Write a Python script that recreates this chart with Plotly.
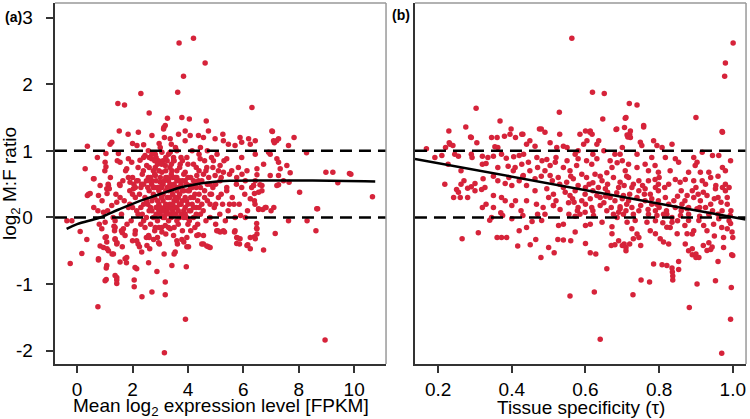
import plotly.graph_objects as go

# ---------------- Panel (a): mean log2 expression vs log2 M:F ----------------
panel_a_sparse = [
    (3.68,2.62),(4.20,2.69),(4.62,2.32),(3.84,2.12),(3.63,1.88),(2.30,1.86),(1.47,1.71),(1.71,1.69),
    (2.60,1.57),(6.31,1.65),(3.26,1.49),(3.78,1.50),(4.05,1.48),(4.66,1.45),(3.13,1.35),(1.52,1.30),
    (2.21,1.28),(1.84,1.25),(0.37,1.07),(0.29,0.73),(7.05,1.29),(7.83,1.20),(8.28,0.97),(8.98,0.68),
    (9.23,0.68),(9.41,0.52),(9.83,0.66),(9.88,0.65),(10.66,0.31),(8.03,0.38),(7.65,0.53),(7.27,0.49),
    (7.69,0.67),(6.91,0.98),(7.12,1.12),(7.20,1.15),(6.49,0.64),(6.60,0.49),(6.40,0.36),(6.42,0.20),
    (6.70,0.12),(7.00,0.10),(8.65,0.13),(1.04,0.96),(1.19,1.10),(1.25,1.13),(0.73,0.90),(1.04,0.76),
    (0.61,0.58),(0.83,0.48),(0.41,0.35),(0.37,0.33),(1.08,0.36),(1.12,0.50),(1.53,0.50),
]
panel_a_low = [
    (-0.37,-0.05),(-0.19,-0.05),(-0.25,-0.69),(0.11,-0.21),(0.17,-0.54),(0.35,-0.33),(0.75,-1.34),
    (0.77,-0.64),(0.83,-0.43),(1.05,-0.76),(1.05,-0.93),(1.05,-0.29),(1.08,-0.47),(1.26,-0.55),
    (1.37,-0.87),(1.43,-0.94),(1.43,-0.99),(1.55,-0.67),(1.73,-0.62),(1.79,-0.60),(1.37,-0.33),
    (1.44,-0.38),(1.63,-0.23),(1.63,-0.44),(1.33,-0.13),(2.06,-0.94),(2.06,-1.04),(2.15,-0.77),
    (2.34,-1.19),(2.58,-0.68),(2.70,-1.12),(2.88,-0.81),(2.97,-0.40),(3.14,-0.55),(3.18,-0.97),
    (3.18,-1.16),(3.15,-2.03),(3.42,-0.72),(3.50,-0.55),(3.62,-0.40),(3.94,-0.74),(3.91,-1.53),
    (4.02,-0.44),(3.85,-0.37),(4.50,-0.40),(4.74,-0.44),(4.38,-0.26),(4.10,-0.20),(5.08,-0.20),
    (5.32,-0.22),(5.68,-0.22),(5.80,-0.31),(5.86,-0.40),(6.16,-0.41),(6.25,-0.47),(6.40,-0.29),
    (6.48,-0.16),(6.48,-0.09),(6.73,-0.49),(6.55,0.12),(6.82,0.15),(7.10,0.15),(7.15,-0.24),
    (7.63,-0.05),(8.30,-0.05),(8.62,-0.20),(8.68,0.13),(8.95,-1.84),(5.90,0.03),(6.07,0.00),
    (5.50,0.20),(5.66,0.20),
]
panel_a_upper = [
    (3.66,1.25),(3.90,1.30),(4.08,1.23),(4.38,1.23),(4.56,1.20),(4.74,1.30),(4.98,1.18),(5.26,1.25),
    (5.28,1.15),(5.46,1.10),(5.70,1.08),(5.88,1.20),(5.94,1.13),(6.19,1.18),(6.25,1.10),(6.43,1.15),
    (7.03,1.30),(7.09,1.15),(7.27,1.18),(7.63,1.08),(3.48,0.90),(3.72,0.80),(3.96,0.90),(4.20,0.80),
    (4.44,0.88),(4.68,0.75),(4.92,0.85),(5.16,0.78),(5.40,0.88),(5.58,0.70),(5.82,0.75),(5.94,0.90),
    (6.13,0.70),(6.43,0.95),(6.49,0.73),(6.97,0.95),(7.21,0.88),(7.27,0.83),(7.33,0.73),(7.27,0.63),
    (7.45,0.55),(6.97,0.63),(6.43,0.55),(6.07,0.55),(5.94,0.45),(6.37,0.48),(5.16,0.55),(5.40,0.45),
    (4.80,0.50),(4.38,0.55),(4.08,0.48),(3.60,0.55),(3.90,0.68),(4.32,0.63),(4.98,0.63),(4.56,0.65),
    (3.42,0.70),(5.28,0.68),(5.76,0.60),(6.73,0.80),(7.57,0.78),
    (2.70,1.23),(3.18,1.38),(3.12,1.33),(3.36,1.18),(2.00,1.11),(2.16,1.08),(2.40,1.09),(2.96,1.11),
    (1.01,0.83),(0.59,0.58),(1.13,0.48),(1.55,0.83),(1.49,0.96),(1.85,0.88),(1.97,0.83),(2.27,0.86),
    (2.45,0.93),(2.57,1.00),(2.82,0.95),(3.06,0.98),(1.79,0.73),(1.85,0.60),(1.91,0.53),(1.55,0.48),
    (2.15,0.55),(2.39,0.70),(2.51,0.78),(2.69,0.88),(2.94,0.85),(3.18,0.78),(2.82,0.75),(2.57,0.60),
    (2.82,0.63),(3.06,0.68),(3.30,0.58),(2.33,0.50),(2.69,0.50),(3.00,0.53),(3.42,0.45),(3.48,0.85),
    (3.36,0.98),(2.03,0.43),(1.07,0.43),
]
panel_a_mid = [
    (0.47,0.36),(0.77,0.33),(1.16,0.43),(0.75,0.10),(0.95,0.08),(1.25,0.18),(1.43,0.23),(1.01,-0.07),
    (0.89,-0.17),(1.37,-0.05),(1.37,-0.15),(1.67,-0.17),(1.73,-0.27),(1.01,-0.30),(1.07,-0.37),
    (1.37,-0.32),(1.43,-0.40),(0.95,-0.45),(1.13,-0.50),(1.31,-0.55),(0.77,-0.62),(1.07,-0.72),
    (1.43,-0.90),(1.01,-0.95),(1.78,-0.68),(2.09,-0.75),(2.09,-0.25),(2.15,-0.35),(2.33,-0.52),
    (2.25,-0.44),(2.52,-0.42),(2.62,-0.47),(2.58,-0.27),(2.76,-0.33),(2.94,-0.38),(2.82,-0.15),
    (3.06,-0.22),(3.18,-0.12),(3.36,-0.17),(3.48,-0.27),
    (6.25,0.28),(6.55,0.13),(6.79,0.15),(6.55,0.38),(6.67,0.40),(6.37,0.48),(6.67,0.48),(7.21,0.48),
    (6.49,-0.17),(6.49,-0.25),(6.43,-0.32),(6.25,-0.30),(6.13,-0.42),(5.76,-0.39),(5.88,-0.32),
    (5.70,-0.20),(5.76,-0.30),(5.28,-0.20),(5.16,-0.22),(5.04,-0.20),(4.56,-0.40),(4.68,-0.43),
    (4.80,-0.45),(4.32,-0.27),(4.56,-0.27),(3.96,-0.44),(3.60,-0.35),(3.78,-0.33),(3.54,-0.52),
    (3.96,-0.30),
]
panel_a_core = [
    (1.6,0.05),(1.7,0.25),(1.8,-0.1),(1.9,0.4),(2.0,0.15),(2.0,0.6),(2.1,-0.2),(2.1,0.3),(2.2,0.75),
    (2.2,0.05),(2.3,0.45),(2.3,-0.1),(2.4,0.2),(2.4,0.9),(2.5,0.55),(2.5,0.0),(2.5,-0.3),(1.65,0.55),
    (1.75,0.7),(1.85,0.15),(1.95,-0.05),(2.05,0.5),(2.15,0.1),(2.25,0.35),(2.35,0.65),(2.45,-0.15),
    (1.55,0.3),(1.6,-0.2),(2.0,-0.35),(2.2,-0.4),
    (2.6,0.1),(2.6,0.4),(2.6,0.75),(2.65,-0.1),(2.7,0.25),(2.7,0.55),(2.7,0.95),(2.75,0.0),(2.8,0.3),
    (2.8,0.65),(2.8,-0.2),(2.85,0.15),(2.9,0.45),(2.9,0.8),(2.9,-0.05),(2.95,0.2),(3.0,0.05),(3.0,0.35),
    (3.0,0.6),(3.0,1.05),(3.05,-0.15),(3.1,0.25),(3.1,0.5),(3.1,0.85),(3.15,0.0),(3.15,0.15),(3.2,0.4),
    (3.2,0.7),(3.2,-0.25),(3.25,0.1),(3.25,0.3),(3.3,0.55),(3.3,0.95),(3.3,-0.05),(3.35,0.2),(3.35,0.75),
    (3.4,0.0),(3.4,0.4),(3.4,1.1),(3.45,0.1),(3.45,0.6),(3.5,0.25),(3.5,0.85),(3.5,-0.15),(2.55,0.2),
    (2.65,0.6),(2.75,0.45),(2.85,0.9),(2.95,0.7),(3.05,0.45),(3.15,1.2),(3.25,0.6),(3.35,0.05),(3.45,0.35),
    (2.6,-0.3),(2.9,-0.3),(3.3,0.15),(3.1,0.1),(3.2,0.05),
    (3.55,0.05),(3.55,0.45),(3.6,0.15),(3.6,0.7),(3.6,1.0),(3.65,-0.1),(3.65,0.3),(3.7,0.55),(3.7,0.0),
    (3.75,0.2),(3.75,0.9),(3.8,0.4),(3.8,-0.2),(3.85,0.1),(3.85,0.65),(3.9,0.3),(3.9,1.15),(3.95,0.0),
    (3.95,0.5),(4.0,0.2),(4.0,0.8),(4.05,-0.05),(4.05,0.4),(4.1,0.6),(4.1,0.1),(4.15,1.0),(4.2,0.3),
    (4.2,0.0),(4.25,0.5),(4.3,0.15),(4.3,0.75),(4.35,-0.1),(4.4,0.35),(4.4,0.95),(4.45,0.05),(4.5,0.55),
    (4.5,0.2),(3.7,0.35),(3.9,0.05),(4.0,0.6),(3.6,0.25),(3.8,0.85),(4.15,0.45),(4.35,0.25),(3.55,1.05),
    (4.25,-0.15),
    (4.55,0.1),(4.6,0.4),(4.6,0.85),(4.65,-0.05),(4.7,0.25),(4.75,0.6),(4.8,0.0),(4.85,0.35),(4.9,0.75),
    (4.95,0.15),(5.0,0.5),(5.0,-0.1),(5.05,0.95),(5.1,0.3),(5.15,0.05),(5.2,0.6),(5.25,0.2),(5.3,0.85),
    (5.35,-0.05),(5.4,0.4),(5.45,0.1),(5.5,0.65),(4.7,1.0),(4.9,0.45),(5.2,0.35),(4.8,0.2),
    (5.6,0.3),(5.7,0.0),(5.75,0.5),(5.85,0.2),(5.95,0.65),(6.05,0.35),(6.15,0.1),(6.3,0.45),(6.4,0.25),
    (0.6,0.15),(0.9,0.25),(1.1,0.1),(1.2,0.6),(1.3,0.0),(1.4,0.35),(1.45,0.85),(1.0,0.7),(0.8,-0.1),
    (1.35,-0.2),
]
panel_a_dense = [
    (2.35,0.05),(2.45,0.3),(2.55,0.45),(2.65,0.15),(2.75,0.35),(2.75,0.7),(2.85,0.05),(2.85,0.55),
    (2.95,0.1),(2.95,0.4),(3.05,0.3),(3.05,0.8),(3.1,0.0),(3.15,0.55),(3.2,0.2),(3.25,0.45),(3.25,0.85),
    (3.3,0.3),(3.35,0.5),(3.4,0.15),(3.4,0.65),(3.45,0.45),(3.5,0.05),(3.5,0.5),(3.55,0.3),(3.6,0.6),
    (3.65,0.1),(3.65,0.45),(3.7,0.75),(3.75,0.05),(3.75,0.5),(3.8,0.25),(3.85,0.4),(3.9,0.15),(3.9,0.55),
    (3.95,0.25),(4.0,0.4),(4.05,0.1),(4.1,0.3),(4.15,0.2),(4.2,0.55),(4.25,0.35),(4.3,0.05),(4.3,0.45),
    (2.5,0.25),(2.6,0.55),(2.7,0.1),(2.8,0.45),(2.9,0.25),(3.0,0.15),(3.0,0.45),(3.1,0.35),(3.2,0.6),
    (3.3,0.4),(3.35,0.3),(3.45,0.2),(3.55,0.15),(3.6,0.4),(3.7,0.2),(3.8,0.55),(2.4,0.5),(2.3,0.15),
    (2.2,0.55),(2.1,0.45),(1.9,0.2),(2.0,0.35),(2.4,-0.05),(3.6,-0.05),(3.3,-0.15),(2.95,-0.15),
    (4.0,-0.1),(4.4,0.15),(4.6,0.3),(4.45,0.45),(4.8,0.35),(5.0,0.2),(4.2,0.15),(4.1,0.45),(3.85,0.0),
    (3.55,0.6),(3.4,0.8),(3.2,0.9),(2.8,0.85),(2.6,0.9),(4.4,0.7),(4.7,0.5),(4.65,0.7),(5.1,0.7),
    (4.85,0.9),(4.45,1.05),
]
# loess fit (a)
fit_a_x = [-0.38, 0.0, 0.83, 1.5, 2.27, 2.63, 3.2, 3.72, 4.3, 4.8, 5.5, 6.85, 8.5, 10.76]
fit_a_y = [-0.17, -0.1, 0.0, 0.12, 0.25, 0.30, 0.38, 0.45, 0.50, 0.53, 0.55, 0.555, 0.555, 0.54]

# ---------------- Panel (b): tissue specificity vs log2 M:F ----------------
panel_b_sparse = [
    (0.563,2.69),(1.001,2.62),(0.980,2.32),(0.978,2.12),(0.619,1.88),(0.651,1.86),(0.303,1.64),
    (0.529,1.58),(0.719,1.71),(0.740,1.69),(0.647,1.48),(0.708,1.49),(0.900,1.50),(0.368,1.45),
    (0.275,1.36),(0.229,1.30),(0.398,1.33),(0.475,1.33),(0.683,1.32),(0.706,1.35),(0.758,1.36),
    (0.971,1.29),(0.713,1.24),(0.715,1.21),(0.600,1.30),(0.612,1.28),(0.288,1.21),(0.360,1.20),
    (0.168,1.03),(0.191,0.90),(0.218,0.50),(0.260,0.30),(0.220,1.05),(0.232,1.10),(0.240,1.08),
    (0.994,0.85),(0.972,0.75),(0.954,0.48),(0.980,0.50),(0.960,0.30),
]
panel_b_low = [
    (0.265,-0.32),(0.309,-0.23),(0.320,0.15),(0.340,-0.04),(0.360,-0.30),(0.372,-0.30),(0.386,-0.30),
    (0.416,-0.43),(0.450,-0.41),(0.479,-0.60),(0.465,-0.33),(0.500,-0.45),(0.515,-0.53),(0.525,-0.33),
    (0.540,-0.34),(0.558,-1.18),(0.560,-0.35),(0.572,-0.22),(0.600,-0.39),(0.613,-0.53),(0.628,-0.55),
    (0.624,-1.12),(0.640,-1.83),(0.658,-0.77),(0.670,-0.42),(0.680,-0.41),(0.690,-0.35),(0.705,-0.40),
    (0.710,-0.50),(0.729,-1.16),(0.751,-0.94),(0.750,-0.42),(0.774,-0.97),(0.785,-0.70),(0.808,-0.71),
    (0.821,-0.72),(0.835,-0.76),(0.836,-0.82),(0.837,-0.88),(0.837,-0.94),(0.853,-0.66),(0.853,-0.78),
    (0.882,-1.35),(0.903,-1.00),(0.953,-0.95),(0.970,-2.04),(0.994,-1.53),(0.996,-1.05),(0.997,-0.56),
    (1.000,-0.57),(0.960,-0.66),(1.000,-0.30),(0.994,-0.09),(0.880,-0.50),(0.890,-0.56),(0.900,-0.60),
    (0.920,-0.42),(0.940,-0.48),(0.935,-0.38),(0.975,-0.45),
    (0.345,0.0),(0.40,-0.02),(0.43,0.03),(0.455,-0.06),(0.47,0.05),(0.44,-0.15),(0.42,-0.2),
]
panel_b_left = [
    (0.290,1.20),(0.345,1.20),(0.380,1.22),(0.395,1.25),(0.410,1.20),(0.430,1.25),(0.230,1.12),
    (0.305,1.12),(0.354,1.06),(0.362,1.05),(0.210,0.93),(0.245,0.95),(0.255,0.92),(0.290,0.95),
    (0.292,0.90),(0.320,0.92),(0.335,0.90),(0.350,0.92),(0.372,0.95),(0.385,0.89),(0.405,0.91),
    (0.420,0.93),(0.432,0.95),(0.227,0.80),(0.320,0.80),(0.330,0.81),(0.362,0.75),(0.390,0.77),
    (0.409,0.75),(0.404,0.70),(0.262,0.70),(0.262,0.50),(0.270,0.55),(0.300,0.51),(0.322,0.58),
    (0.327,0.45),(0.350,0.62),(0.362,0.55),(0.382,0.51),(0.392,0.60),(0.400,0.48),(0.420,0.55),
    (0.430,0.62),(0.250,0.42),(0.255,0.38),(0.280,0.44),(0.290,0.46),(0.300,0.40),(0.318,0.42),
    (0.350,0.33),(0.372,0.30),(0.382,0.25),(0.242,0.30),(0.280,0.30),(0.330,0.20),(0.350,0.15),
    (0.370,0.07),(0.400,0.18),(0.410,0.25),(0.425,0.10),(0.375,0.03),
]
panel_b_centre = [
    (0.710,1.50),(0.480,1.33),(0.490,1.28),(0.427,1.25),(0.530,1.25),(0.585,1.25),(0.613,1.30),
    (0.618,1.25),(0.685,1.33),(0.722,1.30),(0.449,1.15),(0.463,1.07),(0.440,1.10),(0.504,1.12),
    (0.522,1.05),(0.540,1.07),(0.550,1.05),(0.595,1.10),(0.604,1.15),(0.631,1.10),(0.636,1.15),
    (0.572,0.95),(0.580,0.88),(0.694,0.95),(0.427,0.80),(0.445,0.83),(0.468,0.90),(0.482,0.85),
    (0.495,0.87),(0.504,0.78),(0.518,0.83),(0.540,0.75),(0.558,0.70),(0.576,0.78),(0.603,0.85),
    (0.617,0.80),(0.631,0.88),(0.667,0.85),(0.672,0.75),(0.686,0.82),(0.700,0.85),(0.708,0.70),
    (0.431,0.63),(0.449,0.70),(0.463,0.58),(0.490,0.70),(0.504,0.63),(0.526,0.60),(0.549,0.53),
    (0.567,0.58),(0.590,0.65),(0.603,0.60),(0.626,0.65),(0.645,0.55),(0.658,0.67),(0.676,0.60),
    (0.694,0.53),(0.712,0.62),(0.440,0.48),(0.463,0.40),(0.495,0.43),(0.513,0.35),(0.540,0.45),
    (0.558,0.33),(0.572,0.40),(0.599,0.35),(0.613,0.28),(0.631,0.33),(0.654,0.43),(0.667,0.30),
    (0.685,0.37),(0.703,0.33),(0.717,0.25),(0.440,0.25),(0.467,0.20),(0.485,0.15),(0.513,0.18),
    (0.531,0.12),(0.554,0.22),(0.580,0.15),(0.599,0.08),(0.617,0.15),(0.640,0.18),(0.658,0.10),
    (0.676,0.05),(0.694,0.13),(0.712,0.20),(0.572,0.02),(0.585,0.05),
]
panel_b_right = [
    (0.758,1.38),(0.972,1.28),(0.720,1.25),(0.722,1.20),(0.749,1.13),(0.753,1.08),(0.785,1.15),
    (0.794,1.08),(0.808,1.05),(0.835,1.10),(0.844,0.88),(0.853,0.83),(0.817,0.90),(0.894,0.90),
    (0.903,0.83),(0.917,0.98),(0.945,0.93),(0.962,0.93),(0.980,0.70),(0.717,0.80),(0.740,0.75),
    (0.762,0.80),(0.771,0.70),(0.789,0.78),(0.798,0.68),(0.880,0.68),(0.898,0.78),(0.912,0.68),
    (0.935,0.68),(0.717,0.60),(0.745,0.55),(0.771,0.55),(0.789,0.57),(0.798,0.50),(0.826,0.50),
    (0.844,0.57),(0.857,0.53),(0.871,0.57),(0.894,0.55),(0.917,0.55),(0.926,0.50),(0.953,0.43),
    (0.972,0.45),(0.980,0.40),(0.726,0.45),(0.745,0.40),(0.762,0.43),(0.776,0.35),(0.798,0.40),
    (0.817,0.30),(0.876,0.33),(0.894,0.30),(0.912,0.25),(0.906,0.35),(0.930,0.33),(0.950,0.28),
    (0.968,0.23),(0.985,0.20),(0.995,0.10),(0.762,0.25),(0.780,0.20),(0.798,0.25),(0.826,0.20),
    (0.844,0.15),(0.862,0.20),(0.880,0.15),(0.903,0.13),(0.926,0.15),(0.945,0.10),(0.726,0.15),
    (0.745,0.10),(0.771,0.05),(0.794,0.03),(0.821,0.05),(0.835,0.00),
    (0.481,-0.045),(0.490,0.05),(0.513,0.18),(0.527,-0.12),(0.540,-0.10),(0.555,0.05),(0.569,0.23),
    (0.578,0.10),(0.600,-0.12),(0.613,-0.10),(0.622,0.03),(0.645,-0.07),(0.672,-0.14),(0.672,-0.245),
    (0.686,0.00),(0.694,0.16),(0.703,0.05),(0.713,-0.07),(0.726,-0.17),(0.735,-0.045),(0.740,-0.25),
    (0.745,-0.30),(0.730,-0.32),(0.720,-0.40),(0.700,-0.42),(0.710,-0.45),(0.767,-0.07),(0.776,-0.20),
    (0.790,0.10),(0.794,0.20),(0.812,0.05),(0.821,-0.145),(0.835,-0.07),(0.849,-0.245),(0.858,0.03),
    (0.876,0.13),(0.880,-0.045),(0.894,-0.20),(0.908,-0.045),(0.921,-0.12),(0.935,0.05),(0.948,-0.10),
    (0.962,-0.02),(0.971,0.10),(0.985,-0.17),(0.998,-0.22),(0.993,0.03),(0.790,-0.245),(0.803,-0.32),
    (0.812,-0.37),(0.826,-0.40),(0.876,-0.245),(0.871,-0.40),(0.890,-0.47),(0.900,-0.55),(0.930,-0.495),
    (0.944,-0.445),(0.908,-0.60),
]
panel_b_dense = [
    (0.60,0.45),(0.62,0.40),(0.64,0.30),(0.66,0.38),(0.68,0.25),(0.70,0.28),(0.72,0.35),(0.74,0.30),
    (0.76,0.35),(0.78,0.28),(0.80,0.15),(0.82,0.10),(0.84,0.25),(0.86,0.10),(0.88,0.05),(0.60,0.20),
    (0.62,0.10),(0.65,0.22),(0.67,0.15),(0.69,0.08),(0.71,0.10),(0.73,0.05),(0.75,0.18),(0.77,0.12),
    (0.79,-0.05),(0.81,-0.08),(0.83,-0.15),(0.85,-0.05),(0.87,-0.12),(0.89,-0.25),(0.91,0.02),
    (0.93,-0.2),(0.95,-0.28),(0.97,-0.15),(0.66,0.50),(0.64,0.62),(0.62,0.52),(0.58,0.48),(0.56,0.62),
    (0.53,0.50),(0.51,0.55),(0.48,0.62),(0.47,0.75),(0.52,0.90),(0.55,0.85),(0.58,1.0),(0.62,0.95),
    (0.65,1.0),(0.68,0.95),(0.70,1.05),(0.74,0.95),(0.78,0.90),(0.80,0.60),(0.83,0.70),(0.86,0.40),
    (0.90,0.45),(0.92,0.38),(0.94,0.60),(0.96,0.62),(0.99,0.45),(0.985,0.30),(0.99,-0.05),(0.975,-0.30),
    (0.50,0.30),(0.52,0.25),(0.545,0.38),(0.565,0.28),(0.59,0.25),(0.61,0.50),(0.635,0.45),(0.655,0.32),
    (0.69,0.45),(0.705,0.48),(0.73,0.50),(0.755,0.48),(0.79,0.45),(0.815,0.45),(0.85,0.32),(0.87,0.25),
    (0.89,0.40),(0.91,0.15),(0.94,0.20),(0.96,0.05),
]
fit_b_x = [0.137, 1.035]
fit_b_y = [0.88, -0.03]

y_ticks = [-2, -1, 0, 1, 2, 3]
y_tick_text = ["-2", "-1", "0", "1", "2", "3"]
xa_ticks = [0, 2, 4, 6, 8, 10]
xb_ticks = [0.2, 0.4, 0.6, 0.8, 1.0]
xb_tick_text = ["0.2", "0.4", "0.6", "0.8", "1.0"]
ref_levels = [0, 1]

pts_a = panel_a_sparse + panel_a_low + panel_a_upper + panel_a_mid + panel_a_core + panel_a_dense
pts_b = panel_b_sparse + panel_b_low + panel_b_left + panel_b_centre + panel_b_right + panel_b_dense

RED = "#d6233a"
FONT = "Liberation Sans, Arial, sans-serif"
W, H, MT, MB = 750, 419, 3, 55
PH = H - MT - MB

fig = go.Figure()
fig.add_trace(go.Scatter(x=[p[0] for p in pts_a], y=[p[1] for p in pts_a], mode="markers",
                         marker=dict(color=RED, size=5.5, line=dict(width=0)),
                         xaxis="x", yaxis="y", showlegend=False, hoverinfo="skip"))
fig.add_trace(go.Scatter(x=[p[0] for p in pts_b], y=[p[1] for p in pts_b], mode="markers",
                         marker=dict(color=RED, size=5.5, line=dict(width=0)),
                         xaxis="x2", yaxis="y2", showlegend=False, hoverinfo="skip"))
fig.add_trace(go.Scatter(x=fit_a_x, y=fit_a_y, mode="lines", line=dict(color="black", width=2.5, shape="spline"),
                         xaxis="x", yaxis="y", showlegend=False, hoverinfo="skip"))
fig.add_trace(go.Scatter(x=fit_b_x, y=fit_b_y, mode="lines", line=dict(color="black", width=2.5),
                         xaxis="x2", yaxis="y2", showlegend=False, hoverinfo="skip"))

shapes = []
for xr, yr in (("x", "y"), ("x2", "y2")):
    for lv in ref_levels:
        shapes.append(dict(type="line", xref=f"{xr} domain", yref=yr, x0=0, x1=1, y0=lv, y1=lv,
                           line=dict(color="black", width=2.5, dash="12px,7px"), layer="above"))
    shapes.append(dict(type="line", xref=f"{xr} domain", yref=f"{yr} domain", x0=0, x1=1, y0=1, y1=1,
                       line=dict(color="#999999", width=1.5)))
    shapes.append(dict(type="line", xref=f"{xr} domain", yref=f"{yr} domain", x0=1, x1=1, y0=0, y1=1,
                       line=dict(color="#999999", width=1.5)))

axis_common = dict(showgrid=False, zeroline=False, showline=True, linecolor="#333333", linewidth=1.5,
                   ticks="outside", ticklen=7, tickwidth=1.5, tickcolor="#333333",
                   tickfont=dict(family=FONT, size=19, color="black"))


def px_to_paper(px, py):
    return px / W, (H - MB - py) / PH


def label(text, px, py, size=19, angle=0, xanchor="center"):
    x, y = px_to_paper(px, py)
    return dict(text=text, x=x, y=y, xref="paper", yref="paper", showarrow=False, textangle=angle,
                font=dict(family=FONT, size=size, color="black"), xanchor=xanchor, yanchor="middle")


fig.update_layout(
    width=W, height=H, paper_bgcolor="white", plot_bgcolor="white",
    margin=dict(l=0, r=0, t=MT, b=MB),
    font=dict(family=FONT, color="black"),
    xaxis=dict(domain=[0.0733, 0.5147], range=[-0.8, 11.15], tickvals=xa_ticks, anchor="y",
               **axis_common),
    yaxis=dict(domain=[0, 1], range=[-2.2, 3.22], tickvals=y_ticks,
               ticktext=[t + "\u2002" for t in y_tick_text], anchor="x", **axis_common),
    xaxis2=dict(domain=[0.5533, 0.9947], range=[0.137, 1.036], tickvals=xb_ticks, ticktext=xb_tick_text,
                anchor="y2", **axis_common),
    yaxis2=dict(domain=[0, 1], range=[-2.2, 3.22], anchor="x2", showgrid=False, zeroline=False,
                showline=True, linecolor="#333333", linewidth=1.5, ticks="", showticklabels=False),
    shapes=shapes,
    annotations=[
        label("Mean log<sub>2</sub> expression level [FPKM]", 220.5, 407),
        label("Tissue specificity (τ)", 580.5, 407),
        label("log<sub>2</sub> M:F ratio", 11, 184, angle=-90),
        label("<b>(a)</b>", 3, 17, size=14, xanchor="left"),
        label("<b>(b)</b>", 390, 15, size=14, xanchor="left"),
    ],
)

fig.write_html("out.html", config={"displayModeBar": False},
               post_script="document.body.style.margin='0';document.body.style.overflow='hidden';")
